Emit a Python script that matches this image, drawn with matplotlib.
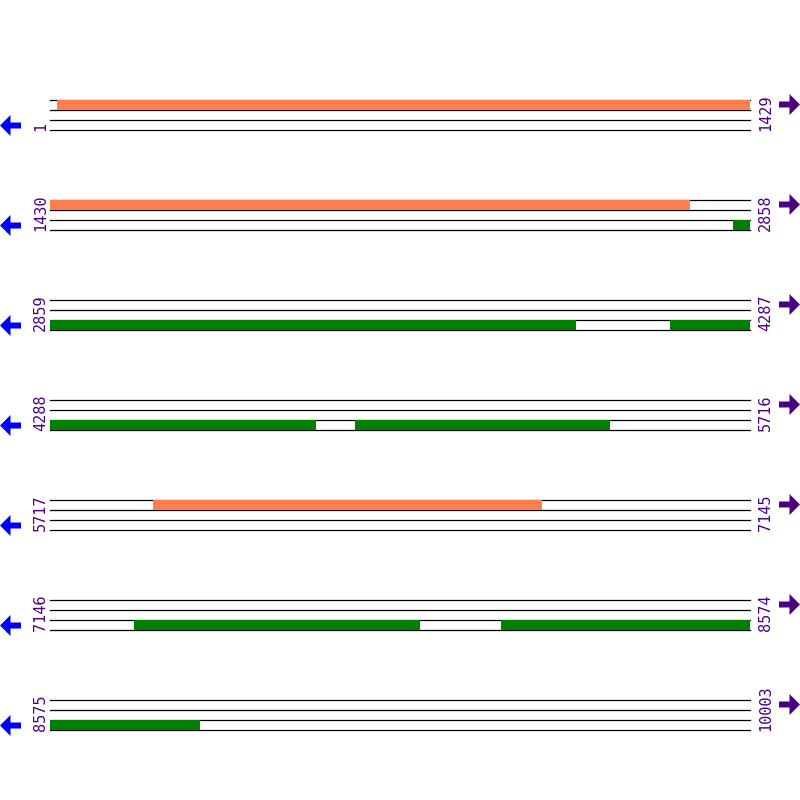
import matplotlib.pyplot as plt
from matplotlib.patches import Rectangle, Polygon

# sequence map: 10003 bp split in rows of 1429
seq_len = 10003
row_len = 1429
row_starts = [1, 1430, 2859, 4288, 5717, 7146, 8575]
row_ends = [1429, 2858, 4287, 5716, 7145, 8574, 10003]

# features (start, end) in bp
fwd_features = [(15, 2736), (5927, 6721)]
rev_features = [(2824, 3931), (4125, 4831), (4911, 5431), (7317, 7901), (8067, 8881)]

fwd_color = '#FF7F50'
rev_color = '#008000'
label_color = '#4B0082'

x0, x1 = 50, 750
scale = (x1 - x0) / row_len

fig = plt.figure(figsize=(8, 8), dpi=100)
ax = fig.add_axes([0, 0, 1, 1])
ax.set_xlim(0, 800)
ax.set_ylim(800, 0)
ax.axis('off')


def draw_feature(start, end, band):
    # split a feature over the rows it crosses
    for i, (rs, re) in enumerate(zip(row_starts, row_ends)):
        s = max(start, rs)
        e = min(end, re)
        if s > e:
            continue
        y0 = 100 + 100 * i + band * 20
        xa = x0 + (s - rs) * scale
        xb = x0 + (e - rs + 1) * scale
        col = fwd_color if band == 0 else rev_color
        ax.add_patch(Rectangle((xa, y0), xb - xa, 10, color=col, lw=0, zorder=3))


for i, (rs, re) in enumerate(zip(row_starts, row_ends)):
    y0 = 100 + 100 * i
    xe = x0 + (re - rs + 1) * scale
    for k in range(4):
        ax.plot([x0, xe], [y0 + 10 * k, y0 + 10 * k], color='black', lw=0.9, zorder=2)
    ax.text(48, y0 + 31, str(rs), rotation=90, ha='right', va='bottom',
            color=label_color, family='DejaVu Sans Mono', fontsize=11)
    ax.text(758, y0 + 31, str(re), rotation=90, ha='left', va='bottom',
            color=label_color, family='DejaVu Sans Mono', fontsize=11)
    # strand arrows
    yc = y0 + 25.5
    ax.add_patch(Polygon([(0, yc), (10.5, yc - 10.5), (10.5, yc - 3), (21, yc - 3),
                          (21, yc + 3), (10.5, yc + 3), (10.5, yc + 10.5)],
                         closed=True, color='#0000FF', lw=0))
    yc = y0 + 4.5
    ax.add_patch(Polygon([(800, yc), (789.5, yc - 10.5), (789.5, yc - 3), (779, yc - 3),
                          (779, yc + 3), (789.5, yc + 3), (789.5, yc + 10.5)],
                         closed=True, color=label_color, lw=0))

for s, e in fwd_features:
    draw_feature(s, e, 0)
for s, e in rev_features:
    draw_feature(s, e, 1)

fig.savefig('out.png', dpi=100, facecolor='white')
